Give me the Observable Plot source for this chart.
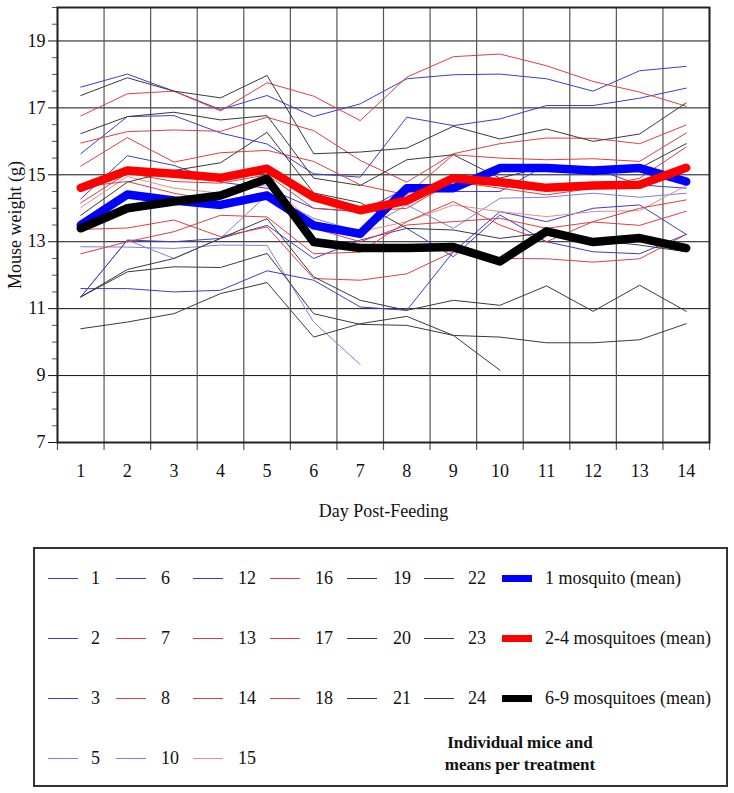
<!DOCTYPE html>
<html><head><meta charset="utf-8">
<script src="https://cdn.jsdelivr.net/npm/d3@7"></script>
<script src="https://cdn.jsdelivr.net/npm/@observablehq/plot@0.6"></script>
<style>
html,body{margin:0;padding:0;background:#fff;}
body{width:734px;height:793px;position:relative;overflow:hidden;font-family:"Liberation Serif",serif;color:#111;}
#chart{position:absolute;left:0;top:0;}
#legendBox{position:absolute;left:33px;top:547px;width:691px;height:236px;border:2px solid #333;}
.lg{position:absolute;font-size:18px;line-height:22px;white-space:nowrap;}
.sw{position:absolute;}
.note{position:absolute;font-size:17px;font-weight:bold;line-height:22px;text-align:center;width:240px;}
</style></head><body>
<div id="chart"></div>
<div id="legendBox"></div>
<script>
// ---------- data ----------
const days = [1,2,3,4,5,6,7,8,9,10,11,12,13,14];
const yTicks = [7,9,11,13,15,17,19];

// 1 mosquito
const m1  = [17.62,18.01,17.5,16.95,17.37,16.74,17.12,17.87,17.99,18.01,17.87,17.5,18.11,18.24];
const m2  = [15.63,16.74,16.77,16.25,15.92,15.03,14.93,16.72,16.47,16.67,17.07,17.07,17.29,17.59];
const m3  = [14.28,15.57,15.28,14.78,14.6,14.0,13.9,14.6,14.5,14.5,15.3,15.2,14.7,14.6];
const m5  = [12.85,12.84,12.8,12.9,12.89,10.6,9.33,null,null,null,null,null,null,null];
const m6  = [11.6,11.6,11.5,11.55,12.13,11.85,11.05,10.95,12.7,13.9,13.6,14.0,14.1,13.22];
const m10 = [11.35,13.05,12.5,13.1,14.4,13.7,13.3,14.1,13.4,14.3,14.33,14.45,14.33,14.45];
const m12 = [11.35,13.05,13.0,13.1,13.49,12.5,13.05,13.4,12.55,13.8,13.0,12.7,12.64,13.22];
// 2-4 mosquitoes
const m7  = [16.76,17.42,17.5,16.91,17.75,17.35,16.62,17.92,18.53,18.61,18.26,17.79,17.47,17.05];
const m8  = [15.95,16.29,16.34,16.3,16.72,16.32,15.43,14.78,15.63,15.93,16.1,16.09,15.93,16.49];
const m13 = [15.26,16.11,15.38,15.66,15.73,15.4,14.7,14.4,15.6,15.5,15.45,15.48,15.4,16.25];
const m14 = [14.16,15.05,14.8,14.75,15.0,14.0,13.9,14.0,14.8,14.6,14.4,14.6,14.9,15.83];
const m15 = [14.02,14.95,14.6,14.45,14.7,13.6,13.3,13.6,14.1,13.9,13.75,13.9,13.93,14.68];
const m16 = [14.64,14.8,14.45,14.2,14.5,13.4,13.0,13.5,13.6,13.7,13.4,13.59,13.49,13.91];
const m17 = [13.37,13.41,13.65,13.15,13.44,11.9,11.85,12.04,12.7,12.5,12.49,12.39,12.49,13.22];
const m18 = [12.64,13.0,13.3,13.79,13.74,12.64,12.69,13.6,14.2,13.5,13.0,13.6,14.0,14.25];
// 6-9 mosquitoes
const m19 = [17.37,17.9,17.5,17.3,17.97,15.63,15.68,15.8,16.45,16.07,16.37,16.0,16.22,17.15];
const m20 = [16.23,16.74,16.87,16.64,16.77,14.9,14.68,15.45,15.6,14.9,15.25,15.0,15.2,15.93];
const m21 = [13.79,14.78,15.13,15.36,16.27,14.46,14.17,13.4,13.35,13.1,13.27,13.05,12.9,12.7];
const m22 = [11.35,12.17,12.5,13.1,13.69,11.95,11.25,10.95,11.25,11.1,11.68,10.92,11.7,10.92];
const m23 = [11.35,12.1,12.25,12.23,12.65,10.85,10.53,10.5,10.2,10.15,9.98,9.98,10.07,10.55];
const m24 = [10.4,10.6,10.85,11.45,11.78,10.15,10.55,10.77,10.2,9.16,null,null,null,null];

// treatment means
const mean1  = [13.5,14.41,14.23,14.1,14.38,13.49,13.24,14.6,14.6,15.2,15.2,15.13,15.2,14.8];
const mean24 = [14.61,15.13,15.03,14.91,15.18,14.33,13.94,14.23,14.9,14.78,14.61,14.68,14.7,15.21];
const mean69 = [13.4,14.0,14.2,14.38,14.88,12.99,12.81,12.81,12.84,12.41,13.31,12.99,13.11,12.81];

const mouseIds   = ["1","2","3","5","6","10","12","7","8","13","14","15","16","17","18","19","20","21","22","23","24"];
const mouseSeries = [m1,m2,m3,m5,m6,m10,m12,m7,m8,m13,m14,m15,m16,m17,m18,m19,m20,m21,m22,m23,m24];
const mouseGroup = ["1","1","1","1","1","1","1","2-4","2-4","2-4","2-4","2-4","2-4","2-4","2-4","6-9","6-9","6-9","6-9","6-9","6-9"];
const meanLabels = ["1 mosquito (mean)","2-4 mosquitoes (mean)","6-9 mosquitoes (mean)"];
const meanSeries = [mean1, mean24, mean69];
const legendOrder = [["1","2","3","5"],["6","7","8","10"],["12","13","14","15"],["16","17","18"],["19","20","21"],["22","23","24"]];

// ---------- styles ----------
const lightIds = new Set(["5","10","15"]);
function thinColor(id, g){
  if (g === "1") return lightIds.has(id) ? "#7f7fe0" : "#3c3cd2";
  if (g === "2-4") return lightIds.has(id) ? "#ef8a8a" : "#dc4141";
  return "#3a3a3a";
}
const meanColors = ["#0000ff","#ff0000","#000000"];

// ---------- build tables ----------
const rows = [];
mouseIds.forEach((id, k) => {
  mouseSeries[k].forEach((v, i) => {
    if (v != null) rows.push({mouse: id, day: days[i], w: v, c: thinColor(id, mouseGroup[k])});
  });
});
const meanRows = [];
meanSeries.forEach((s, k) => s.forEach((v, i) => meanRows.push({g: meanLabels[k], day: days[i], w: v, c: meanColors[k], o: k})));

const bounds = d3.range(0.5, 15, 1);
const minor = d3.range(7, 20.01, 0.5).filter(v => !yTicks.includes(v));

const chart = Plot.plot({
  width: 734, height: 530,
  marginLeft: 57, marginRight: 25, marginTop: 7, marginBottom: 88,
  x: {domain: [0.5, 14.5], label: null},
  y: {domain: [7, 20], label: null},
  color: {type: "identity"},
  style: {fontFamily: "Liberation Serif, serif", fontSize: "18px", color: "#111", background: "#fff"},
  marks: [
    Plot.ruleY(yTicks, {stroke: "#111", strokeWidth: 1, insetLeft: -9}),
    Plot.ruleX(bounds, {stroke: "#555", strokeWidth: 1.2, insetBottom: -8}),
    Plot.axisY(minor, {tickSize: 5, tickFormat: () => "", stroke: "#555", label: null}),
    Plot.axisY(yTicks, {tickSize: 0, tickPadding: 12, label: null, fontSize: 18}),
    Plot.axisX(days, {tickSize: 0, tickPadding: 22, label: null, fontSize: 18}),
    Plot.line(rows, {x: "day", y: "w", z: "mouse", stroke: "c", strokeWidth: 1}),
    Plot.line(meanRows.filter(d => d.o === 0), {x: "day", y: "w", z: "g", stroke: "c", strokeWidth: 8.5, strokeLinecap: "round", strokeLinejoin: "round"}),
    Plot.line(meanRows.filter(d => d.o === 2), {x: "day", y: "w", z: "g", stroke: "c", strokeWidth: 8.5, strokeLinecap: "round", strokeLinejoin: "round"}),
    Plot.line(meanRows.filter(d => d.o === 1), {x: "day", y: "w", z: "g", stroke: "c", strokeWidth: 8.5, strokeLinecap: "round", strokeLinejoin: "round"}),
    Plot.frame({stroke: "#222", strokeWidth: 2}),
    Plot.text(["Day Post-Feeding"], {text: d => d, frameAnchor: "bottom", dy: 69, lineAnchor: "middle", textAnchor: "middle", fontSize: 18}),
    Plot.text(["Mouse weight (g)"], {text: d => d, frameAnchor: "left", dx: -42, rotate: -90, lineAnchor: "middle", textAnchor: "middle", fontSize: 18})
  ]
});
document.getElementById("chart").appendChild(chart);

// ---------- legend ----------
const swX = [48,116,193,270,347,424,502];
const lbX = [91,161,238,315,393,468,545];
const rowY = [578,638,698,758];
function addSwatch(x, y, color, h){
  const d = document.createElement("div");
  d.className = "sw";
  d.style.left = x + "px"; d.style.top = (y - h/2) + "px";
  d.style.width = "30px"; d.style.height = h + "px"; d.style.background = color;
  document.body.appendChild(d);
}
function addLabel(x, y, text){
  const d = document.createElement("div");
  d.className = "lg"; d.textContent = text;
  d.style.left = x + "px"; d.style.top = (y - 11) + "px";
  document.body.appendChild(d);
}
legendOrder.forEach((col, ci) => {
  col.forEach((id, ri) => {
    const k = mouseIds.indexOf(id);
    addSwatch(swX[ci], rowY[ri], thinColor(id, mouseGroup[k]), 1);
    addLabel(lbX[ci], rowY[ri], id);
  });
});
meanLabels.forEach((lab, k) => {
  addSwatch(swX[6], rowY[k], meanColors[k], 7);
  addLabel(lbX[6], rowY[k], lab);
});
const note = document.createElement("div");
note.className = "note";
note.style.left = "400px"; note.style.top = "732px";
note.innerHTML = "Individual mice and<br>means per treatment";
document.body.appendChild(note);
</script>
</body></html>
